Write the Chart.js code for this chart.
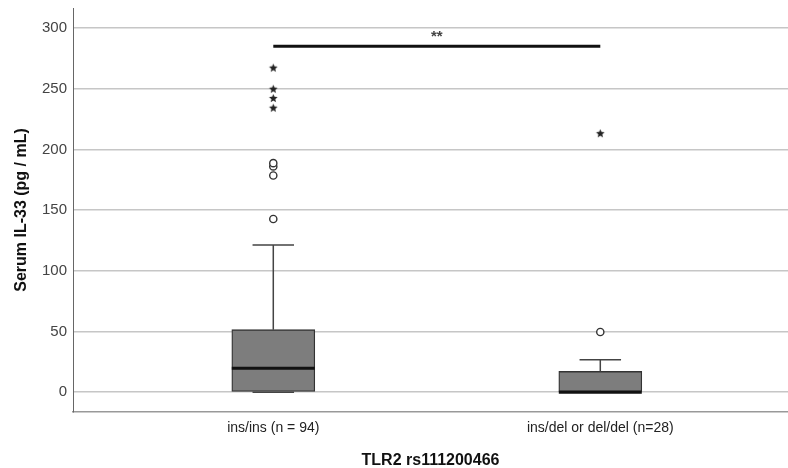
<!DOCTYPE html>
<html>
<head>
<meta charset="utf-8">
<script src="https://cdn.jsdelivr.net/npm/chart.js@4"></script>
<style>
  body { margin: 0; background: #fff; }
  canvas { display: block; }
</style>
</head>
<body>
<canvas id="boxChart" width="788" height="468"></canvas>
<script>
// ---- data ----
const categories = ['ins/ins (n = 94)', 'ins/del or del/del (n=28)'];
const q1 = [0, 0];
const medians = [19.8, 0];
const q3 = [51.5, 17.1];
const whiskerLow = [0, 0];
const whiskerHigh = [121.2, 26.7];
const circleOutliers = [[142.7, 178.5, 186, 188.7], [49.6]];
const starOutliers = [[234, 242, 249.6, 267], [213]];
const yTicks = [0, 50, 100, 150, 200, 250, 300];
const sigLevel = 285;
const sigLabel = '**';

const axisFont = 'Arial, "Liberation Sans", sans-serif';

// small filled star used for extreme values
function makeStar(r) {
    const c = document.createElement('canvas');
    c.width = c.height = 2 * r + 2;
    const g = c.getContext('2d');
    g.translate(r + 1, r + 1);
    g.beginPath();
    for (let k = 0; k < 10; k++) {
        const rad = k % 2 ? r * 0.45 : r;
        const a = -Math.PI / 2 + k * Math.PI / 5;
        g.lineTo(rad * Math.cos(a), rad * Math.sin(a));
    }
    g.closePath();
    g.fillStyle = '#222';
    g.fill();
    return c;
}
const starImg = makeStar(4.5);

function flatten(groups) {
    const out = [];
    groups.forEach((vals, i) => vals.forEach(v => out.push({ x: i + 1, y: v })));
    return out;
}

// medians, whiskers, caps and the significance bracket
const boxExtras = {
    id: 'boxExtras',
    afterDatasetsDraw(chart) {
        const { ctx, scales: { x, y } } = chart;
        const bars = chart.getDatasetMeta(0).data;
        ctx.save();
        categories.forEach((c, i) => {
            const cx = x.getPixelForValue(i + 1);
            const half = bars[i].width / 2;
            const cap = half / 2;
            ctx.strokeStyle = '#444';
            ctx.lineWidth = 1.5;
            ctx.beginPath();
            ctx.moveTo(cx, y.getPixelForValue(q3[i]));
            ctx.lineTo(cx, y.getPixelForValue(whiskerHigh[i]));
            ctx.moveTo(cx - cap, y.getPixelForValue(whiskerHigh[i]));
            ctx.lineTo(cx + cap, y.getPixelForValue(whiskerHigh[i]));
            ctx.moveTo(cx, y.getPixelForValue(q1[i]));
            ctx.lineTo(cx, y.getPixelForValue(whiskerLow[i]));
            ctx.moveTo(cx - cap, y.getPixelForValue(whiskerLow[i]));
            ctx.lineTo(cx + cap, y.getPixelForValue(whiskerLow[i]));
            ctx.stroke();
            ctx.strokeStyle = '#111';
            ctx.lineWidth = 3;
            ctx.beginPath();
            ctx.moveTo(cx - half, y.getPixelForValue(medians[i]));
            ctx.lineTo(cx + half, y.getPixelForValue(medians[i]));
            ctx.stroke();
        });
        const sy = y.getPixelForValue(sigLevel);
        ctx.strokeStyle = '#111';
        ctx.lineWidth = 3;
        ctx.beginPath();
        ctx.moveTo(x.getPixelForValue(1), sy);
        ctx.lineTo(x.getPixelForValue(2), sy);
        ctx.stroke();
        ctx.fillStyle = '#444';
        ctx.font = 'bold 15px ' + axisFont;
        ctx.textAlign = 'center';
        ctx.textBaseline = 'bottom';
        ctx.fillText(sigLabel, (x.getPixelForValue(1) + x.getPixelForValue(2)) / 2, sy - 2);
        ctx.restore();
    }
};

new Chart(document.getElementById('boxChart'), {
    type: 'bar',
    data: {
        datasets: [
            {
                type: 'bar',
                data: categories.map((c, i) => ({ x: i + 1, y: [q1[i], q3[i]] })),
                backgroundColor: '#7d7d7d',
                borderColor: '#333',
                borderWidth: 1.3,
                borderSkipped: false,
                barThickness: 83
            },
            {
                type: 'scatter',
                data: flatten(circleOutliers),
                pointStyle: 'circle',
                pointRadius: 3.6,
                backgroundColor: '#fff',
                borderColor: '#333',
                borderWidth: 1.4
            },
            {
                type: 'scatter',
                data: flatten(starOutliers),
                pointStyle: starImg
            }
        ]
    },
    options: {
        responsive: false,
        animation: false,
        layout: { autoPadding: false, padding: { top: 8, left: 0, right: 0, bottom: 0 } },
        plugins: {
            legend: { display: false },
            tooltip: { enabled: false }
        },
        scales: {
            x: {
                type: 'linear',
                offset: false,
                min: 0.3875,
                max: 2.574,
                afterBuildTicks: scale => { scale.ticks = categories.map((c, i) => ({ value: i + 1 })); },
                afterFit: scale => {
                    scale.height = 56;
                    scale.paddingLeft = 0;
                    scale.paddingRight = 0;
                },
                ticks: {
                    padding: 8,
                    color: '#222',
                    font: { family: axisFont, size: 14 },
                    callback: (v, i) => categories[i]
                },
                grid: { display: false, drawTicks: false, offset: false },
                border: { display: true, color: '#999', width: 1.5 },
                title: {
                    display: true,
                    text: 'TLR2 rs111200466',
                    color: '#111',
                    font: { family: axisFont, size: 16, weight: 'bold' },
                    padding: { top: 0, bottom: -2 }
                }
            },
            y: {
                type: 'linear',
                min: -16.3,
                max: 316.5,
                afterBuildTicks: scale => { scale.ticks = yTicks.map(v => ({ value: v })); },
                afterFit: scale => {
                    scale.width = 73;
                    scale.paddingTop = 0;
                    scale.paddingBottom = 0;
                },
                ticks: {
                    padding: 6,
                    color: '#444',
                    font: { family: axisFont, size: 15 }
                },
                grid: { color: '#c6c6c6', lineWidth: 1.5, drawTicks: false },
                border: { display: true, color: '#666', width: 1 },
                title: {
                    display: true,
                    text: 'Serum IL-33 (pg / mL)',
                    color: '#111',
                    font: { family: axisFont, size: 16, weight: 'bold' },
                    padding: { top: 12, bottom: 0 }
                }
            }
        }
    },
    plugins: [boxExtras]
});
</script>
</body>
</html>
